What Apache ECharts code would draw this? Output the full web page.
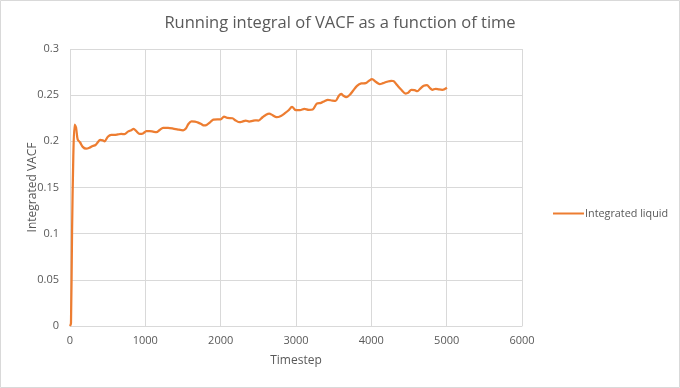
<!DOCTYPE html>
<html><head><meta charset="utf-8">
<script src="https://cdn.jsdelivr.net/npm/echarts@6/dist/echarts.min.js"></script>
<style>html,body{margin:0;padding:0;background:#fff}#c{width:680px;height:388px}</style>
</head><body><div id="c"></div>
<script>
const timesteps = [0,13,27,44,62,80,102,133,169,213,258,302,338,369,400,436,458,502,547,591,636,680,724,769,813,844,880,924,969,1013,1058,1102,1147,1191,1236,1302,1369,1436,1502,1538,1569,1613,1658,1702,1747,1778,1813,1858,1902,1956,2000,2044,2089,2156,2200,2253,2289,2333,2378,2422,2458,2502,2556,2600,2644,2689,2742,2800,2858,2902,2947,3000,3053,3111,3169,3222,3276,3333,3378,3422,3480,3524,3569,3600,3631,3667,3715,3757,3810,3867,3925,3969,4009,4058,4111,4155,4208,4265,4296,4341,4398,4456,4487,4531,4575,4611,4650,4695,4739,4774,4810,4854,4898,4942,5004];
const integrated = [0.0,0.003,0.1,0.184,0.218,0.215,0.202,0.199,0.194,0.192,0.193,0.195,0.196,0.199,0.2015,0.201,0.2,0.205,0.207,0.207,0.2075,0.208,0.2078,0.2105,0.212,0.2134,0.211,0.208,0.2085,0.211,0.211,0.2105,0.21,0.2123,0.2145,0.2145,0.2138,0.2127,0.212,0.2138,0.2185,0.2217,0.2214,0.2203,0.2185,0.2172,0.2178,0.2205,0.2236,0.2239,0.2239,0.2268,0.2254,0.225,0.2225,0.2207,0.2214,0.2225,0.2214,0.2221,0.2228,0.2225,0.2261,0.2286,0.23,0.2283,0.2261,0.2275,0.2308,0.2337,0.2373,0.2337,0.2337,0.2351,0.234,0.2344,0.2409,0.2417,0.2435,0.2449,0.2442,0.2438,0.2493,0.2514,0.2493,0.2478,0.2505,0.2547,0.2601,0.2627,0.263,0.2656,0.2674,0.2645,0.262,0.263,0.2645,0.2656,0.2652,0.2609,0.2558,0.2518,0.2525,0.2558,0.2554,0.2543,0.2572,0.2601,0.2609,0.258,0.2558,0.2569,0.2562,0.2558,0.258];
const xTicks = [0,1000,2000,3000,4000,5000,6000];
const yTicks = [0,0.05,0.1,0.15,0.2,0.25,0.3];
const seriesName = 'Integrated liquid';

const FONT = '"Open Sans", "Noto Sans", sans-serif';
const chart = echarts.init(document.getElementById('c'), null, {renderer:'canvas'});
chart.setOption({
  animation:false,
  backgroundColor:'#fff',
  graphic:[{type:'rect',shape:{x:0.5,y:0.5,width:679,height:387},style:{fill:'none',stroke:'#d9d9d9',lineWidth:1}}],
  title:{text:'Running integral of VACF as a function of time',left:'center',top:10,
    textStyle:{fontFamily:FONT,fontSize:16.5,fontWeight:'normal',color:'#595959'}},
  grid:{left:70,right:158,top:49,bottom:62},
  legend:{show:true,left:548,top:203,itemWidth:31,itemHeight:2,itemGap:0,
    textStyle:{fontFamily:FONT,fontSize:10.8,color:'#595959',padding:[0,0,0,-4]},
    data:[{name:seriesName,icon:'rect',itemStyle:{color:'#ED7D31'}}]},
  xAxis:{type:'value',min:xTicks[0],max:xTicks[xTicks.length-1],interval:1000,
    name:'Timestep',nameLocation:'middle',nameGap:29,
    nameTextStyle:{fontFamily:FONT,fontSize:12,color:'#595959'},
    axisLine:{show:true,lineStyle:{color:'#d9d9d9'}},axisTick:{show:false},
    axisLabel:{fontFamily:FONT,fontSize:11,color:'#595959',margin:9,formatter:v=>String(v)},
    splitLine:{show:true,lineStyle:{color:'#d9d9d9'}}},
  yAxis:{type:'value',min:yTicks[0],max:yTicks[yTicks.length-1],interval:0.05,
    name:'Integrated VACF',nameLocation:'middle',nameGap:31,nameRotate:90,nameMoveOverlap:false,
    nameTextStyle:{fontFamily:FONT,fontSize:12,color:'#595959'},
    axisLine:{show:false},axisTick:{show:false},
    axisLabel:{fontFamily:FONT,fontSize:11,color:'#595959',margin:11,formatter:v=>String(+v.toFixed(2))},
    splitLine:{show:true,lineStyle:{color:'#d9d9d9'}}},
  series:[{name:seriesName,type:'line',symbol:'none',smooth:0.3,
    lineStyle:{color:'#ED7D31',width:2.25},itemStyle:{color:'#ED7D31'},
    data:timesteps.map((t,i)=>[t,integrated[i]])}]
});
</script></body></html>
